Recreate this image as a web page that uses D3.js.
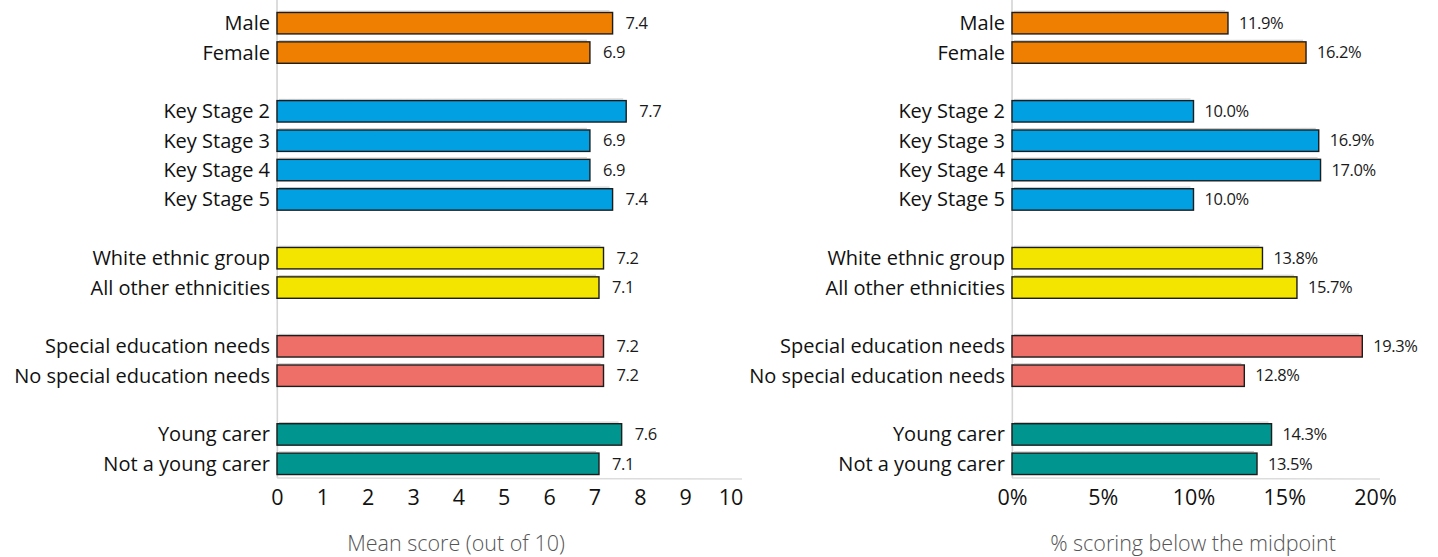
<!DOCTYPE html>
<html>
<head>
<meta charset="utf-8">
<script src="https://cdn.jsdelivr.net/npm/d3@7"></script>
<style>
  html, body { margin: 0; padding: 0; background: #fff; }
  svg { display: block; }
  text { font-family: "Open Sans", Lato, sans-serif; }
</style>
</head>
<body>
<svg id="chart" width="1438" height="557"></svg>
<script>
// Rows, top to bottom; empty strings are spacer rows between groups
const categories = [
  "Male", "Female", "",
  "Key Stage 2", "Key Stage 3", "Key Stage 4", "Key Stage 5", "",
  "White ethnic group", "All other ethnicities", "",
  "Special education needs", "No special education needs", "",
  "Young carer", "Not a young carer"
];
const groups = [
  "gender", "gender", null,
  "stage", "stage", "stage", "stage", null,
  "ethnicity", "ethnicity", null,
  "sen", "sen", null,
  "carer", "carer"
];
const meanScores = [7.4, 6.9, null, 7.7, 6.9, 6.9, 7.4, null, 7.2, 7.1, null, 7.2, 7.2, null, 7.6, 7.1];
const pctBelowMidpoint = [11.9, 16.2, null, 10.0, 16.9, 17.0, 10.0, null, 13.8, 15.7, null, 19.3, 12.8, null, 14.3, 13.5];
const meanTicks = [0, 1, 2, 3, 4, 5, 6, 7, 8, 9, 10];
const pctTicks = [0, 5, 10, 15, 20];

const groupColors = {
  gender: "#EE7F00",
  stage: "#00A0E2",
  ethnicity: "#F3E500",
  sen: "#EE6F68",
  carer: "#00968F"
};

const svg = d3.select("#chart");
const rowKeys = categories.map((c, i) => i);

const y = d3.scaleBand()
  .domain(rowKeys)
  .range([8.5, 478.5])
  .paddingInner(0.27)
  .paddingOuter(0.135);

function panel(opts) {
  const g = svg.append("g");
  const x = d3.scaleLinear().domain(opts.domain).range(opts.range);
  const x0 = opts.range[0];
  const baseY = 478;

  // light, hand-drawn style axis frame
  g.append("path")
    .attr("d", `M${x0},0 L${x0 + 0.4},${baseY}`)
    .attr("stroke", "#d4d4d4").attr("stroke-width", 1.6).attr("fill", "none");
  g.append("path")
    .attr("d", `M${x0},${baseY} L${opts.lineEnd},${baseY + 1}`)
    .attr("stroke", "#dcdcdc").attr("stroke-width", 1.6).attr("fill", "none");

  const rows = rowKeys.filter(i => opts.values[i] != null);

  // bars
  g.selectAll("rect.bar")
    .data(rows)
    .join("rect")
    .attr("class", "bar")
    .attr("x", x(0))
    .attr("y", i => y(i))
    .attr("width", i => x(opts.values[i]) - x(0))
    .attr("height", y.bandwidth())
    .attr("fill", i => groupColors[groups[i]])
    .attr("stroke", "#1c1c1c")
    .attr("stroke-width", 1.4);

  // soft pencil shading along the top edge of each bar
  g.selectAll("path.sketch")
    .data(rows)
    .join("path")
    .attr("class", "sketch")
    .attr("d", i => `M${x(0) + 2},${y(i) - 1.2} L${x(opts.values[i]) - 3},${y(i) - 1.6}`)
    .attr("stroke", "#9a9a9a").attr("stroke-width", 1).attr("opacity", 0.55).attr("fill", "none");

  // value labels
  g.selectAll("text.value")
    .data(rows)
    .join("text")
    .attr("class", "value")
    .attr("x", i => x(opts.values[i]) + opts.labelGap)
    .attr("y", i => y(i) + y.bandwidth() / 2)
    .attr("dy", "0.35em")
    .attr("font-size", 16.5)
    .attr("letter-spacing", "-0.4")
    .attr("fill", "#1a1a1a")
    .text(i => opts.format(opts.values[i]));

  // category labels
  g.selectAll("text.cat")
    .data(rows)
    .join("text")
    .attr("class", "cat")
    .attr("x", x0 - 7)
    .attr("y", i => y(i) + y.bandwidth() / 2)
    .attr("dy", "0.35em")
    .attr("text-anchor", "end")
    .attr("font-size", 20)
    .attr("fill", "#111")
    .text(i => categories[i]);

  // x axis ticks
  const axis = d3.axisBottom(x)
    .tickValues(opts.ticks)
    .tickSize(0)
    .tickPadding(0)
    .tickFormat(opts.tickFormat);
  const ag = g.append("g").attr("transform", `translate(0,${baseY + 19})`).call(axis);
  ag.select(".domain").remove();
  ag.selectAll("text")
    .attr("font-size", 21.5)
    .attr("fill", "#111")
    .attr("font-family", "'Open Sans', Lato, sans-serif")
    .attr("dy", "0.35em");

  // axis title
  g.append("text")
    .attr("x", opts.titleX)
    .attr("y", 543)
    .attr("dy", "0.35em")
    .attr("text-anchor", "middle")
    .attr("font-size", 21.5)
    .attr("font-weight", 300)
    .attr("fill", "#555")
    .text(opts.title);
}

panel({
  values: meanScores,
  domain: [0, 10],
  range: [277, 730.5],
  lineEnd: 742,
  ticks: meanTicks,
  tickFormat: d3.format("d"),
  format: d3.format(".1f"),
  labelGap: 13,
  title: "Mean score (out of 10)",
  titleX: 456
});

panel({
  values: pctBelowMidpoint,
  domain: [0, 20],
  range: [1012, 1375],
  lineEnd: 1380,
  ticks: pctTicks,
  tickFormat: d => d + "%",
  format: d => d.toFixed(1) + "%",
  labelGap: 11,
  title: "% scoring below the midpoint",
  titleX: 1193
});
</script>
</body>
</html>
